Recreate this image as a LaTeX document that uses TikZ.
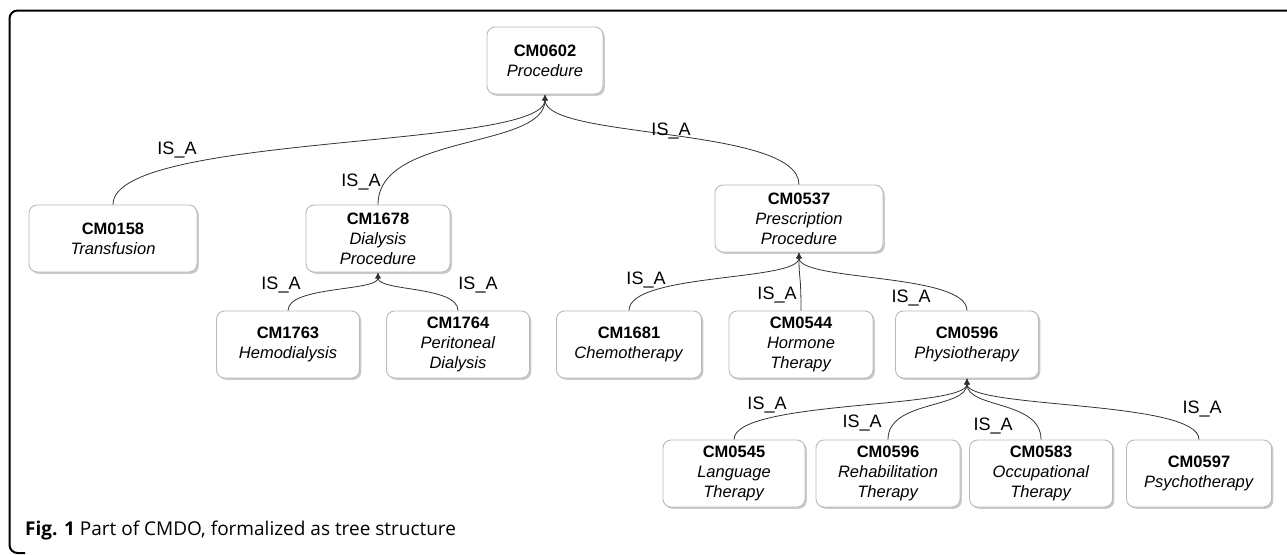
\documentclass[tikz,border=0pt]{standalone}
\usepackage{fontspec}
\setmainfont{Liberation Sans}
\newfontfamily\capfont{Open Sans}
\usetikzlibrary{shadows,arrows.meta,calc}
\tikzset{
  concept/.style={draw=gray!55, line width=0.9pt, rounded corners=8pt, fill=white,
    drop shadow={shadow xshift=1.8pt, shadow yshift=-1.8pt, fill=gray!70, opacity=0.6},
    align=center, inner sep=0pt, minimum height=67pt,
    font=\fontsize{16.5}{20}\selectfont},
  isalabel/.style={font=\fontsize{18}{20}\selectfont, inner sep=0pt},
  edge/.style={draw=black!80, line width=0.8pt, -{Latex[length=6pt,width=6pt]}},
}
\newcommand\cnode[5]{\node[concept, minimum width=#4pt] (#1) at (#2,#3) {#5};}
\newcommand\isaedge[2]{%
  \path[edge] let \p1=(#1.north), \p2=(#2.south) in
    (\p1) .. controls (\x1,{\y1+0.65*(\y2-\y1)}) and (\x2,{\y1+0.5*(\y2-\y1)}) .. (\p2);}
\begin{document}
\begin{tikzpicture}[x=1pt,y=-1pt]
\useasboundingbox (0,0) rectangle (1287,554);
% frame
\draw[line width=2pt, rounded corners=8pt] (1295,10.5) -- (9.5,10.5) -- (9.5,553) -- (25,553);
% nodes
\cnode{p0602}{545}{60.5}{116}{\textbf{CM0602}\\\textit{Procedure}}
\cnode{c0158}{113}{238.5}{168}{\textbf{CM0158}\\\textit{Transfusion}}
\cnode{c1678}{378}{238.5}{144}{\textbf{CM1678}\\\textit{Dialysis}\\\textit{Procedure}}
\cnode{c0537}{799}{218.5}{168}{\textbf{CM0537}\\\textit{Prescription}\\\textit{Procedure}}
\cnode{c1763}{288}{344.5}{143}{\textbf{CM1763}\\\textit{Hemodialysis}}
\cnode{c1764}{458}{344.5}{143}{\textbf{CM1764}\\\textit{Peritoneal}\\\textit{Dialysis}}
\cnode{c1681}{629}{344.5}{145}{\textbf{CM1681}\\\textit{Chemotherapy}}
\cnode{c0544}{801}{344.5}{144}{\textbf{CM0544}\\\textit{Hormone}\\\textit{Therapy}}
\cnode{c0596}{967}{344.5}{143}{\textbf{CM0596}\\\textit{Physiotherapy}}
\cnode{c0545}{734}{473.5}{142}{\textbf{CM0545}\\\textit{Language}\\\textit{Therapy}}
\cnode{c0596r}{888}{473.5}{144}{\textbf{CM0596}\\\textit{Rehabilitation}\\\textit{Therapy}}
\cnode{c0583}{1041}{473.5}{143}{\textbf{CM0583}\\\textit{Occupational}\\\textit{Therapy}}
\cnode{c0597}{1199}{473.5}{145}{\textbf{CM0597}\\\textit{Psychotherapy}}
% edges
\isaedge{c0158}{p0602}
\isaedge{c1678}{p0602}
\isaedge{c0537}{p0602}
\isaedge{c1763}{c1678}
\isaedge{c1764}{c1678}
\isaedge{c1681}{c0537}
\isaedge{c0544}{c0537}
\isaedge{c0596}{c0537}
\isaedge{c0545}{c0596}
\isaedge{c0596r}{c0596}
\isaedge{c0583}{c0596}
\isaedge{c0597}{c0596}
% labels
\node[isalabel] (l0158) at (177,150) {IS\_A};
\node[isalabel] (l1678) at (361,182) {IS\_A};
\node[isalabel] (l0537) at (671,131) {IS\_A};
\node[isalabel] (l1763) at (281,285) {IS\_A};
\node[isalabel] (l1764) at (478,285) {IS\_A};
\node[isalabel] (l1681) at (646,280) {IS\_A};
\node[isalabel] (l0544) at (777,295) {IS\_A};
\node[isalabel] (l0596) at (911,298) {IS\_A};
\node[isalabel] (l0545) at (767,405) {IS\_A};
\node[isalabel] (l0596r) at (862,423) {IS\_A};
\node[isalabel] (l0583) at (993,426) {IS\_A};
\node[isalabel] (l0597) at (1202,409) {IS\_A};
% caption
\node[anchor=west, inner sep=0pt, font=\capfont\fontsize{19}{22}\selectfont] (cap) at (25,531)
  {\textbf{Fig. 1} Part of CMDO, formalized as tree structure};
\end{tikzpicture}
\end{document}
